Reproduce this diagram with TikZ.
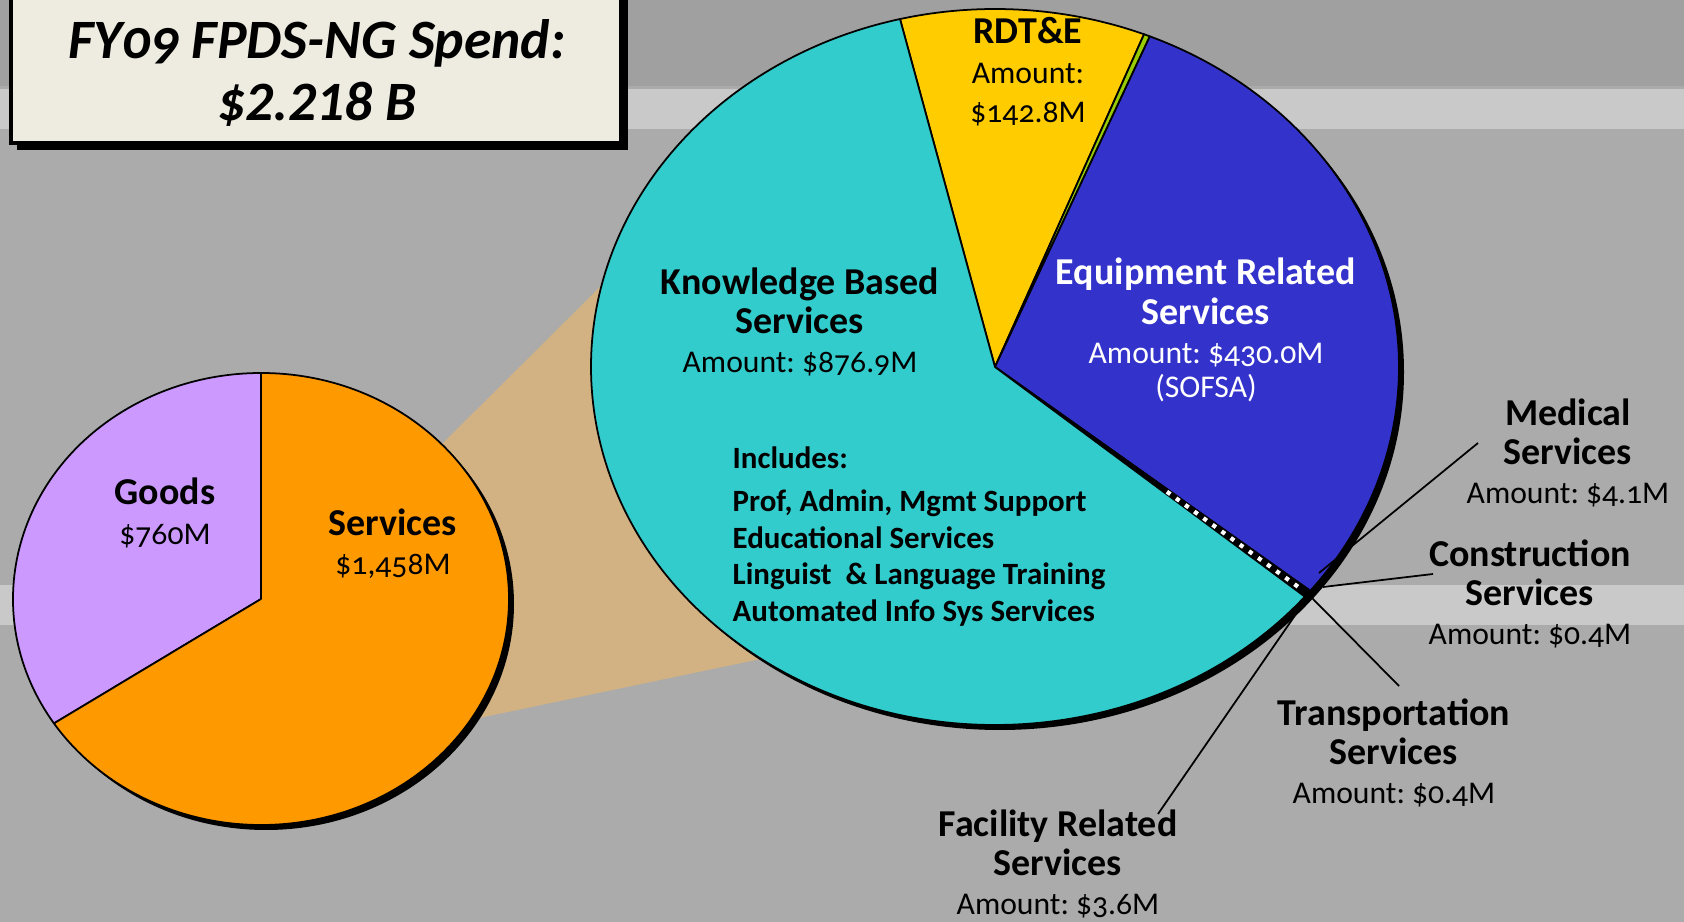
\documentclass[tikz,border=0pt]{standalone}
\usepackage{fontspec}
\setmainfont{Carlito}[Numbers=OldStyle]
\usetikzlibrary{positioning,calc}
\frenchspacing

\definecolor{bgGrey}{HTML}{ABABAB}
\definecolor{bgDark}{HTML}{A0A0A0}
\definecolor{bgLight}{HTML}{C9C9C9}
\definecolor{titleBeige}{HTML}{EEECE1}
\definecolor{zoomTan}{HTML}{D2B283}
\definecolor{goodsLilac}{HTML}{CC99FF}
\definecolor{servOrange}{HTML}{FF9900}
\definecolor{kbsCyan}{HTML}{33CCCC}
\definecolor{rdtYellow}{HTML}{FFCC00}
\definecolor{equipBlue}{HTML}{3333CC}
\definecolor{facGreen}{HTML}{99CC00}

\newcommand{\slicehead}[1]{{\fontsize{10.8}{11.2}\selectfont\bfseries #1}}

\begin{document}
\begin{tikzpicture}[
    x=0.01cm, y=-0.01cm,
    slice/.style={draw=black,line width=0.5pt,line join=round},
    lbl/.style={align=center,inner sep=0pt,font=\fontsize{9}{11.2}\selectfont},
    leader/.style={draw=black,line width=0.5pt}
    ]

    \useasboundingbox (0,0) rectangle (1684,922);

    % background:
    \fill[bgGrey] (0,0) rectangle (1684,922);
    \fill[bgDark] (0,0) rectangle (1684,86);
    \fill[bgLight] (0,89) rectangle (1684,129);
    \fill[bgLight] (0,585) rectangle (1684,625);

    % title box:
    \fill[black] (17,-20) rectangle (628,150);
    \filldraw[fill=titleBeige,draw=black,line width=0.9pt] (11,-20) rectangle (621,143);
    \node (title) at (317,73) [align=center,inner sep=0pt,
      font=\fontsize{15.8}{17.9}\selectfont\bfseries\itshape]
      {FY09 FPDS-NG Spend:\\{\addfontfeatures{Numbers=Lining}\$2.218 B}};

    % zoom wedge:
    \fill[zoomTan] (430,456) -- (610,277) -- (770,657) -- (460,722) -- cycle;

    % left pie:
    \coordinate (sc) at (261,599);
    \fill[black] (266,604) ellipse [x radius=248, y radius=226];
    \foreach \a/\b/\col in {213.4/90/goodsLilac, 450/213.4/servOrange}
      \filldraw[slice,fill=\col] (sc) -- ++({248*cos(\a)},{-226*sin(\a)})
        arc[start angle={-(\a)}, end angle={-(\b)}, x radius=248, y radius=226] -- cycle;

    \node (goods) at (165,513) [lbl] {\slicehead{Goods}\\\$760M};
    \node (serv) at (393,544) [lbl] {\slicehead{Services}\\\$1,458M};

    % right pie:
    \coordinate (bc) at (995,367);
    \fill[black] (1000,372) ellipse [x radius=404, y radius=358];
    \foreach \a/\b/\col in {103.6/68.35/rdtYellow, 68.35/67.46/facGreen,
        67.46/-38.7/equipBlue, -38.7/-39.91/black, -39.91/-256.4/kbsCyan}
      \filldraw[slice,fill=\col] (bc) -- ++({404*cos(\a)},{-358*sin(\a)})
        arc[start angle={-(\a)}, end angle={-(\b)}, x radius=404, y radius=358] -- cycle;

    % tiny slices:
    \coordinate (tiny) at ($(bc)+({404*cos(-39.3)},{-358*sin(-39.3)})$);
    \draw[white,dotted,line width=1.2pt] ($(bc)!0.55!(tiny)$) -- ($(bc)!0.97!(tiny)$);

    \node (rdte) at (1028,72) [lbl] {\slicehead{RDT\&E}\\Amount:\\\$142.8M};
    \node (kbs) at (800,322) [lbl] {\slicehead{Knowledge Based}\\\slicehead{Services}\\Amount: \$876.9M};
    \node (equip) at (1206,330) [lbl,text=white]
      {\slicehead{Equipment Related}\\\slicehead{Services}\\Amount: \$430.0M\\[-1.5pt](SOFSA)};
    \node (incl) at (732,537) [anchor=west,align=left,inner sep=0pt,
      font=\fontsize{8.8}{10.5}\selectfont\bfseries]
      {Includes:\\[1.5pt]Prof, Admin, Mgmt Support\\Educational Services\\
       Linguist \ \& Language Training\\Automated Info Sys Services};

    % outside labels:
    \node (med) at (1568,453) [lbl] {\slicehead{Medical}\\\slicehead{Services}\\Amount: \$4.1M};
    \node (con) at (1530,594) [lbl] {\slicehead{Construction}\\\slicehead{Services}\\Amount: \$0.4M};
    \node (tra) at (1394,753) [lbl] {\slicehead{Transportation}\\\slicehead{Services}\\Amount: \$0.4M};
    \node (fac) at (1058,864) [lbl] {\slicehead{Facility Related}\\\slicehead{Services}\\Amount: \$3.6M};

    \coordinate (med-end) at (1478,443);
    \coordinate (con-end) at (1433,574);
    \coordinate (tra-end) at (1399,686);
    \coordinate (fac-end) at (1158,814);
    \coordinate (med-pt) at (1319,573);
    \coordinate (con-pt) at (1323,587);
    \coordinate (tra-pt) at (1312,598);
    \coordinate (fac-pt) at (1307,598);

    \foreach \s in {med,con,tra,fac}
      \draw[leader] (\s-end) -- (\s-pt);

\end{tikzpicture}
\end{document}
